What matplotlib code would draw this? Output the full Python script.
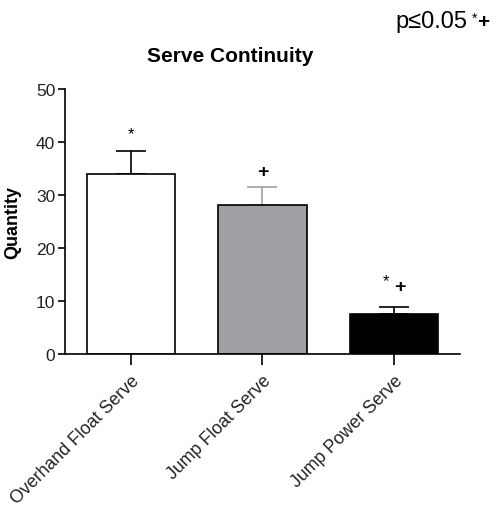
import numpy as np
import matplotlib.pyplot as plt

plt.rcParams['font.family'] = ['Liberation Sans', 'DejaVu Sans']

# data
serve_types = ['Overhand Float Serve', 'Jump Float Serve', 'Jump Power Serve']
quantity = [34.0, 28.2, 7.5]
sem = [4.4, 3.3, 1.4]
marks = ['*', '+', '*+']

bar_colors = ['white', '#a0a0a4', 'black']
err_colors = ['black', '#a0a0a4', 'black']

fig = plt.figure(figsize=(4.98, 5.10), dpi=100)
ax = fig.add_axes([0.1305, 0.304, 0.793, 0.519])

x = np.arange(len(serve_types))
ax.bar(x, quantity, width=0.67, color=bar_colors, edgecolor='black',
       linewidth=1.2, zorder=2)

for i in range(len(x)):
    ax.errorbar(x[i], quantity[i], yerr=[[0], [sem[i]]], fmt='none',
                ecolor=err_colors[i], elinewidth=1.2, capsize=11,
                capthick=1.2, zorder=1)

# significance marks
ax.text(x[0], quantity[0] + sem[0] + 3.2, marks[0], ha='center', va='center',
        fontsize=12)
ax.text(x[1], quantity[1] + sem[1] + 3.0, marks[1], ha='center', va='center',
        fontsize=14, fontweight='bold')
ax.text(x[2] - 0.06, quantity[2] + sem[2] + 5.0, '*', ha='center', va='center',
        fontsize=12)
ax.text(x[2] + 0.04, quantity[2] + sem[2] + 3.8, '+', ha='center', va='center',
        fontsize=14, fontweight='bold')

ax.set_xlim(-0.5, 2.5)
ax.set_ylim(0, 50)
ax.set_yticks(np.arange(0, 51, 10))
ax.set_xticks(x)
ax.set_xticklabels(serve_types, rotation=45, ha='right', rotation_mode='anchor',
                   fontsize=12.8, color='#222222')
ax.tick_params(axis='y', length=5, width=1.2, labelsize=12.5, labelcolor='#222222',
               pad=2)
ax.tick_params(axis='x', length=8, width=1.2, pad=5)

for s in ['top', 'right']:
    ax.spines[s].set_visible(False)
for s in ['left', 'bottom']:
    ax.spines[s].set_linewidth(1.2)

ax.set_ylabel('Quantity', fontsize=13, fontweight='bold')
ax.yaxis.set_label_coords(-0.11, 0.5)
ax.set_title('Serve Continuity', fontsize=15, fontweight='bold', pad=20, x=0.418)

fig.text(0.795, 0.957, 'p≤0.05', fontsize=17, va='center', ha='left')
fig.text(0.947, 0.963, '*', fontsize=10, va='center', ha='left')
fig.text(0.958, 0.955, '+', fontsize=15, fontweight='bold', va='center', ha='left')

fig.savefig('out.png', dpi=100)
